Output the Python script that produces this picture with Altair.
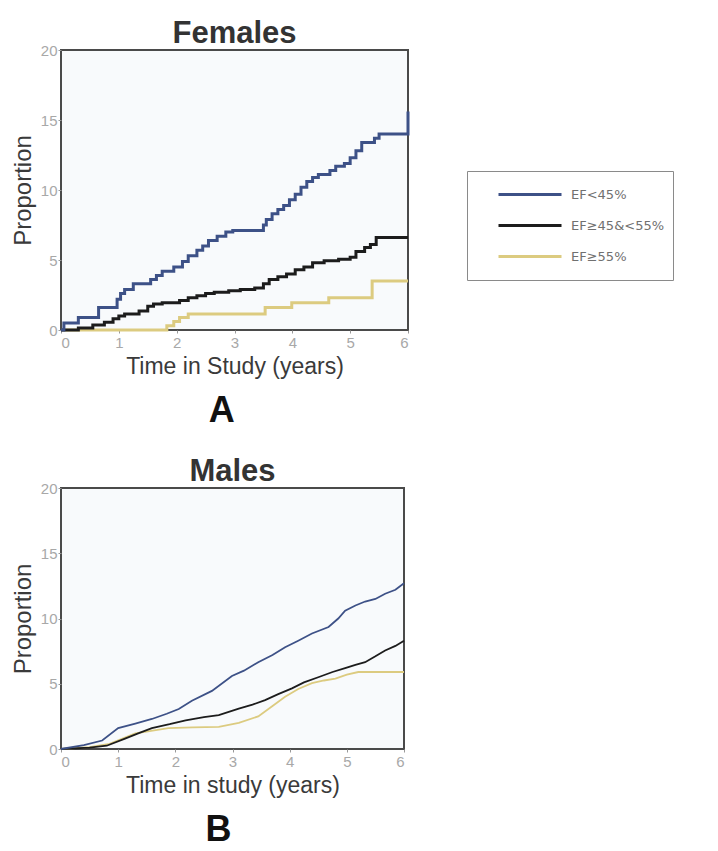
import altair as alt
import pandas as pd

series = ["EF<45%", "EF≥45&<55%", "EF≥55%"]
colors = ["#3d5187", "#1c1c1c", "#dccb80"]
x_ticks = [0, 1, 2, 3, 4, 5, 6]
y_ticks = [0, 5, 10, 15, 20]

# Females (step curves)
f_low_t = [0, 0.05, 0.3, 0.65, 0.97, 1.03, 1.1, 1.25, 1.55, 1.65, 1.75, 1.95, 2.1, 2.2, 2.35, 2.45, 2.55, 2.7, 2.85, 2.97,
           3.5, 3.55, 3.65, 3.75, 3.85, 3.95, 4.05, 4.15, 4.25, 4.35, 4.45, 4.65, 4.75, 4.9, 5.0, 5.1, 5.2, 5.42, 5.5, 6.0]
f_low_v = [0, 0.5, 0.9, 1.6, 2.2, 2.6, 2.9, 3.3, 3.6, 3.9, 4.2, 4.5, 4.9, 5.3, 5.7, 6.0, 6.4, 6.7, 7.0, 7.1,
           7.5, 7.9, 8.3, 8.6, 8.9, 9.3, 9.7, 10.2, 10.6, 10.9, 11.1, 11.4, 11.7, 11.9, 12.3, 12.8, 13.4, 13.7, 14.0, 15.6]
f_mid_t = [0, 0.3, 0.55, 0.75, 0.9, 1.0, 1.1, 1.35, 1.5, 1.6, 1.75, 2.05, 2.2, 2.35, 2.5, 2.65, 2.9, 3.1, 3.35, 3.5,
           3.6, 3.75, 3.9, 4.05, 4.2, 4.35, 4.55, 4.8, 5.0, 5.1, 5.25, 5.35, 5.45, 6.0]
f_mid_v = [0, 0.15, 0.35, 0.55, 0.8, 1.0, 1.15, 1.35, 1.7, 1.85, 1.95, 2.1, 2.3, 2.45, 2.6, 2.7, 2.8, 2.9, 3.0, 3.3,
           3.6, 3.8, 4.0, 4.3, 4.5, 4.8, 4.95, 5.05, 5.2, 5.6, 5.9, 6.1, 6.6, 6.6]
f_high_t = [0, 1.83, 1.95, 2.05, 2.2, 3.53, 3.99, 4.63, 5.38, 6.0]
f_high_v = [0, 0.3, 0.6, 0.9, 1.15, 1.6, 1.95, 2.3, 3.5, 3.5]

# Males
m_low_t = [0, 0.4, 0.72, 1.0, 1.3, 1.59, 1.85, 2.06, 2.29, 2.64, 2.99, 3.2, 3.45, 3.7, 3.92, 4.15, 4.39, 4.68, 4.85,
           4.97, 5.15, 5.32, 5.5, 5.67, 5.85, 6.0]
m_low_v = [0, 0.3, 0.65, 1.6, 1.95, 2.3, 2.7, 3.06, 3.7, 4.45, 5.6, 6.0, 6.65, 7.2, 7.8, 8.3, 8.85, 9.35, 10.0,
           10.6, 11.0, 11.3, 11.5, 11.9, 12.2, 12.7]
m_mid_t = [0, 0.5, 0.8, 1.12, 1.35, 1.59, 1.9, 2.18, 2.5, 2.76, 3.11, 3.35, 3.57, 3.8, 4.04, 4.25, 4.5, 4.75, 4.97,
           5.15, 5.32, 5.5, 5.67, 5.85, 6.0]
m_mid_v = [0, 0.1, 0.25, 0.8, 1.2, 1.6, 1.9, 2.2, 2.45, 2.6, 3.1, 3.4, 3.75, 4.2, 4.65, 5.1, 5.5, 5.9, 6.2,
           6.45, 6.65, 7.1, 7.55, 7.9, 8.3]
m_high_t = [0, 0.5, 0.85, 1.3, 1.88, 2.3, 2.76, 3.11, 3.45, 3.7, 3.92, 4.15, 4.39, 4.6, 4.8, 5.0, 5.2, 6.0]
m_high_v = [0, 0.15, 0.4, 1.2, 1.6, 1.65, 1.7, 2.0, 2.5, 3.3, 4.0, 4.6, 5.05, 5.25, 5.4, 5.7, 5.9, 5.9]


def frame(ts, vs, name, order):
    return pd.DataFrame({"t": ts, "v": vs, "group": name, "o": order})


fem_df = pd.concat([frame(f_high_t, f_high_v, series[2], 0),
                    frame(f_mid_t, f_mid_v, series[1], 1),
                    frame(f_low_t, f_low_v, series[0], 2)])
male_df = pd.concat([frame(m_high_t, m_high_v, series[2], 0),
                     frame(m_mid_t, m_mid_v, series[1], 1),
                     frame(m_low_t, m_low_v, series[0], 2)])

PAD_L, PAD_T = 10, 17

color = alt.Color(
    "group:N",
    scale=alt.Scale(domain=series, range=colors),
    legend=alt.Legend(
        title=None, orient="none", legendX=406, legendY=121,
        symbolType="stroke", symbolSize=3969, symbolStrokeWidth=3, clipHeight=31, rowPadding=0,
        padding=8, symbolOffset=22, labelOffset=8, labelFontSize=13, labelFont="DejaVu Sans",
        labelColor="#707070", strokeColor="#8a8a8a", fillColor="white", cornerRadius=0,
    ),
)


def x_axis(title):
    return alt.Axis(title=title, values=x_ticks, format="d", grid=False, domain=False,
                    tickSize=3, tickColor="#999", labelColor="#a8a8a8", labelFontSize=15,
                    labelPadding=2, titleFontSize=23, titleFontWeight="normal",
                    titleColor="#3a3a3a", titlePadding=5)


y_axis = alt.Axis(title="Proportion", values=y_ticks, grid=False, domain=False,
                  tickSize=3, tickColor="#999", labelColor="#a8a8a8", labelFontSize=15,
                  labelPadding=1, titleFontSize=24, titleFontWeight="normal",
                  titleColor="#3a3a3a", titlePadding=5)


def panel(df, title, xtitle, w, h, interp, sw):
    return alt.Chart(df).mark_line(interpolate=interp, strokeWidth=sw).encode(
        x=alt.X("t:Q", scale=alt.Scale(domain=[0, 6], nice=False), axis=x_axis(xtitle)),
        y=alt.Y("v:Q", scale=alt.Scale(domain=[0, 20], nice=False), axis=y_axis),
        color=color,
        order=alt.Order("o:Q"),
    ).properties(width=w, height=h,
                 title=alt.Title(title, fontSize=31, fontWeight="bold", color="#333", offset=-7))


fem = panel(fem_df, "Females", "Time in Study (years)", 347, 280, "step-after", 3)
male = panel(male_df, "Males", "Time in study (years)", 343, 261, "linear", 1.8)

lab = dict(orient="bottom", anchor="middle", fontSize=36, fontWeight="bold", color="#111", offset=15, dx=9)
fem_block = alt.vconcat(fem, title=alt.Title("A", **lab))
male_block = alt.vconcat(male, title=alt.Title("B", **lab))

chart = alt.vconcat(fem_block, male_block, spacing=26).properties(
    padding={"left": PAD_L, "top": PAD_T, "right": 5, "bottom": 5},
    background="white",
).configure(font="Liberation Sans").configure_view(
    stroke="#4a4a4a", strokeWidth=2, fill="#f8fafc"
)

chart.save("out.html", embed_options={"renderer": "svg", "actions": False})
